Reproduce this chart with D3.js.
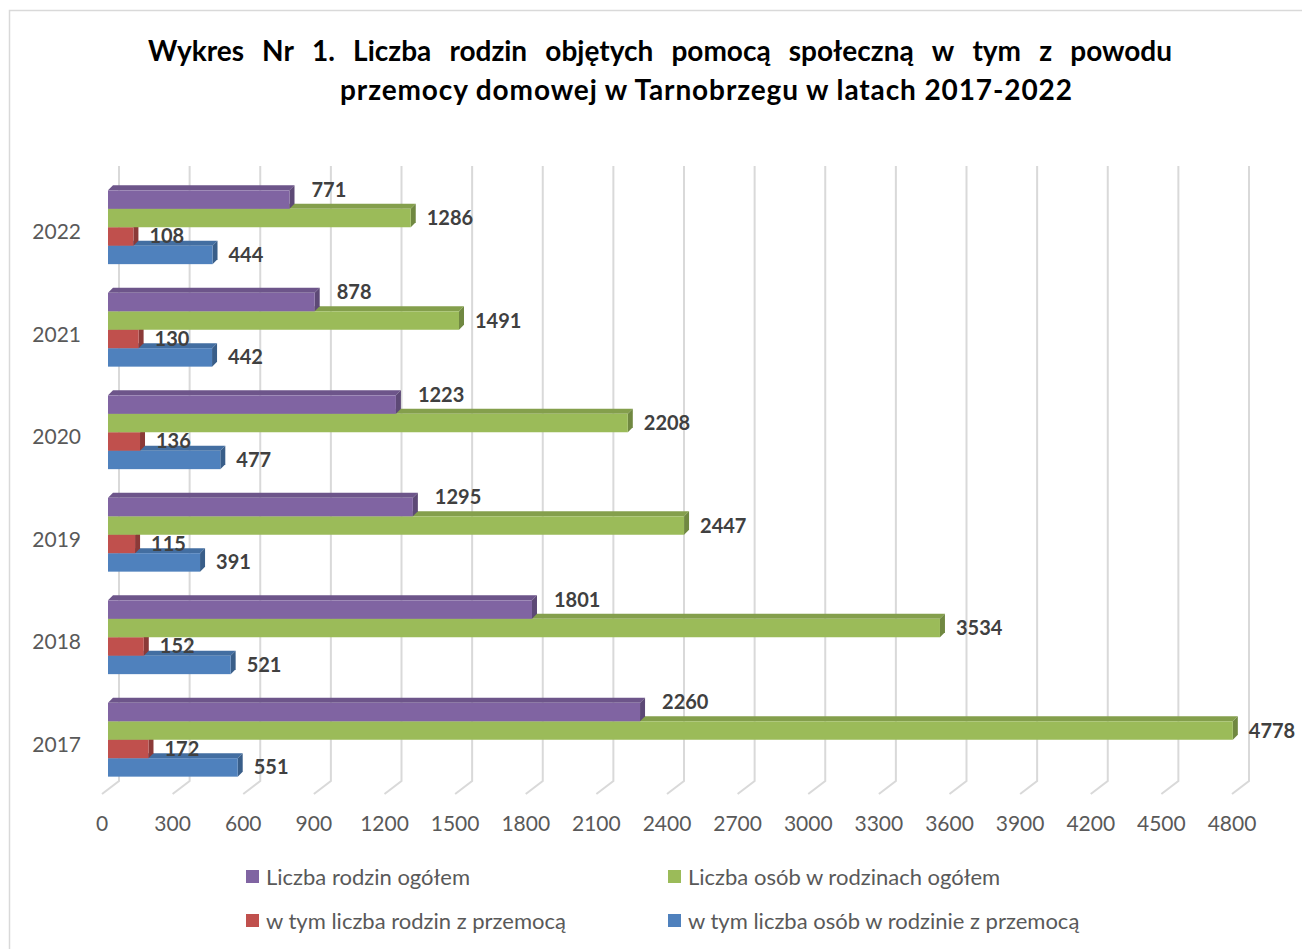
<!DOCTYPE html>
<html>
<head>
<meta charset="utf-8">
<script src="https://cdn.jsdelivr.net/npm/d3@7"></script>
<style>
  body { margin: 0; background: #fff; }
  svg { display: block; }
</style>
</head>
<body>
<div id="chart"></div>
<script>
// dane z wykresu
const years = ["2022", "2021", "2020", "2019", "2018", "2017"];
const seriesNames = ["Liczba rodzin ogółem", "Liczba osób w rodzinach ogółem",
  "w tym liczba rodzin z przemocą", "w tym liczba osób w rodzinie z przemocą"];
const rodzinOgolem = [771, 878, 1223, 1295, 1801, 2260];
const osobOgolem = [1286, 1491, 2208, 2447, 3534, 4778];
const rodzinPrzemoc = [108, 130, 136, 115, 152, 172];
const osobPrzemoc = [444, 442, 477, 391, 521, 551];
const xTicks = d3.range(0, 4801, 300);
const titleLine1 = "Wykres Nr 1. Liczba rodzin objętych pomocą społeczną w tym z powodu";
const titleLine2 = "przemocy domowej w Tarnobrzegu w latach 2017-2022";

const width = 1302, height = 949;
const colors = ["#8064A2", "#9BBB59", "#C0504D", "#4F81BD"];
const allValues = [rodzinOgolem, osobOgolem, rodzinPrzemoc, osobPrzemoc];

const svg = d3.select("#chart").append("svg")
  .attr("width", width).attr("height", height)
  .style("font-family", "Lato, 'Open Sans', sans-serif");

// ramka
svg.append("rect")
  .attr("x", 9.5).attr("y", 10.5)
  .attr("width", width + 20).attr("height", height + 20)
  .attr("fill", "none").attr("stroke", "#d9d9d9").attr("stroke-width", 1.5);

// tytuł - pierwsza linia wyjustowana
const words = titleLine1.split(" ");
const t1 = svg.append("g").attr("font-weight", "bold").attr("font-size", 28).attr("fill", "#000");
const wNodes = t1.selectAll("text").data(words).join("text").attr("y", 61).text(d => d);
const widths = wNodes.nodes().map(n => n.getComputedTextLength());
const gap = (1172 - 148 - d3.sum(widths)) / (words.length - 1);
let cx = 148;
wNodes.attr("x", (d, i) => { const v = cx; cx += widths[i] + gap; return v; });

svg.append("text")
  .attr("x", 340).attr("y", 100)
  .attr("textLength", 732).attr("lengthAdjust", "spacing")
  .attr("font-weight", "bold").attr("font-size", 28)
  .text(titleLine2);

// skale
const x = d3.scaleLinear().domain([0, 4800]).range([108, 1238]);
const y = d3.scaleBand().domain(years).range([176, 791]).paddingInner(0.28).paddingOuter(0.14);
const barH = y.bandwidth() / 4;
const depth = 5;

// siatka (tylna ściana + podłoga)
const grid = svg.append("g").attr("stroke", "#d9d9d9").attr("stroke-width", 2).attr("fill", "none");
grid.selectAll("path").data(xTicks).join("path")
  .attr("d", d => `M${x(d) + 11},166V781L${x(d) - 6},794`);

// etykiety osi X
svg.append("g").selectAll("text").data(xTicks).join("text")
  .attr("x", d => x(d) - 6).attr("y", 831)
  .attr("text-anchor", "middle")
  .attr("font-size", 21).attr("fill", "#595959")
  .text(d => d);

// etykiety lat
svg.append("g").selectAll("text").data(years).join("text")
  .attr("x", 81).attr("y", d => y(d) + y.bandwidth() / 2 + 12)
  .attr("text-anchor", "end")
  .attr("font-size", 21).attr("fill", "#595959")
  .text(d => d);

// słupki 3D - rysowane od dołu grupy, żeby górne zakrywały ściany dolnych
const bars = svg.append("g");
for (let s = 3; s >= 0; s--) {
  const c = d3.color(colors[s]);
  const g = bars.append("g");
  years.forEach((yr, i) => {
    const v = allValues[s][i];
    const x0 = x(0), x1 = x(v);
    const y0 = y(yr) + s * barH, y1 = y0 + barH;
    // górna ściana
    g.append("path")
      .attr("d", `M${x0},${y0}L${x0 + depth},${y0 - depth}L${x1 + depth},${y0 - depth}L${x1},${y0}Z`)
      .attr("fill", c.darker(0.45));
    // boczna ściana
    g.append("path")
      .attr("d", `M${x1},${y0}L${x1 + depth},${y0 - depth}L${x1 + depth},${y1 - depth}L${x1},${y1}Z`)
      .attr("fill", c.darker(0.9));
    // przód
    g.append("rect")
      .attr("x", x0).attr("y", y0)
      .attr("width", x1 - x0).attr("height", barH)
      .attr("fill", c);
  });
}

// etykiety wartości
const labelDx = [22, 16, 16, 16];
const labelDy = [-10, 0, 0, 0];
const lbl = svg.append("g").attr("font-size", 20).attr("font-weight", "bold").attr("fill", "#404040");
allValues.forEach((vals, s) => {
  lbl.selectAll(null).data(vals).join("text")
    .attr("x", d => x(d) + labelDx[s])
    .attr("y", (d, i) => y(years[i]) + s * barH + barH / 2 + 7 + labelDy[s])
    .text(d => d);
});

// legenda
const legPos = [[246, 877], [668, 877], [246, 921], [668, 921]];
const leg = svg.append("g").selectAll("g").data(seriesNames).join("g")
  .attr("transform", (d, i) => `translate(${legPos[i][0]},${legPos[i][1]})`);
leg.append("rect").attr("x", 0).attr("y", -7).attr("width", 13).attr("height", 13)
  .attr("fill", (d, i) => colors[i]);
leg.append("text").attr("x", 20).attr("y", 7.5)
  .attr("font-size", 22).attr("fill", "#595959")
  .text(d => d);
</script>
</body>
</html>
